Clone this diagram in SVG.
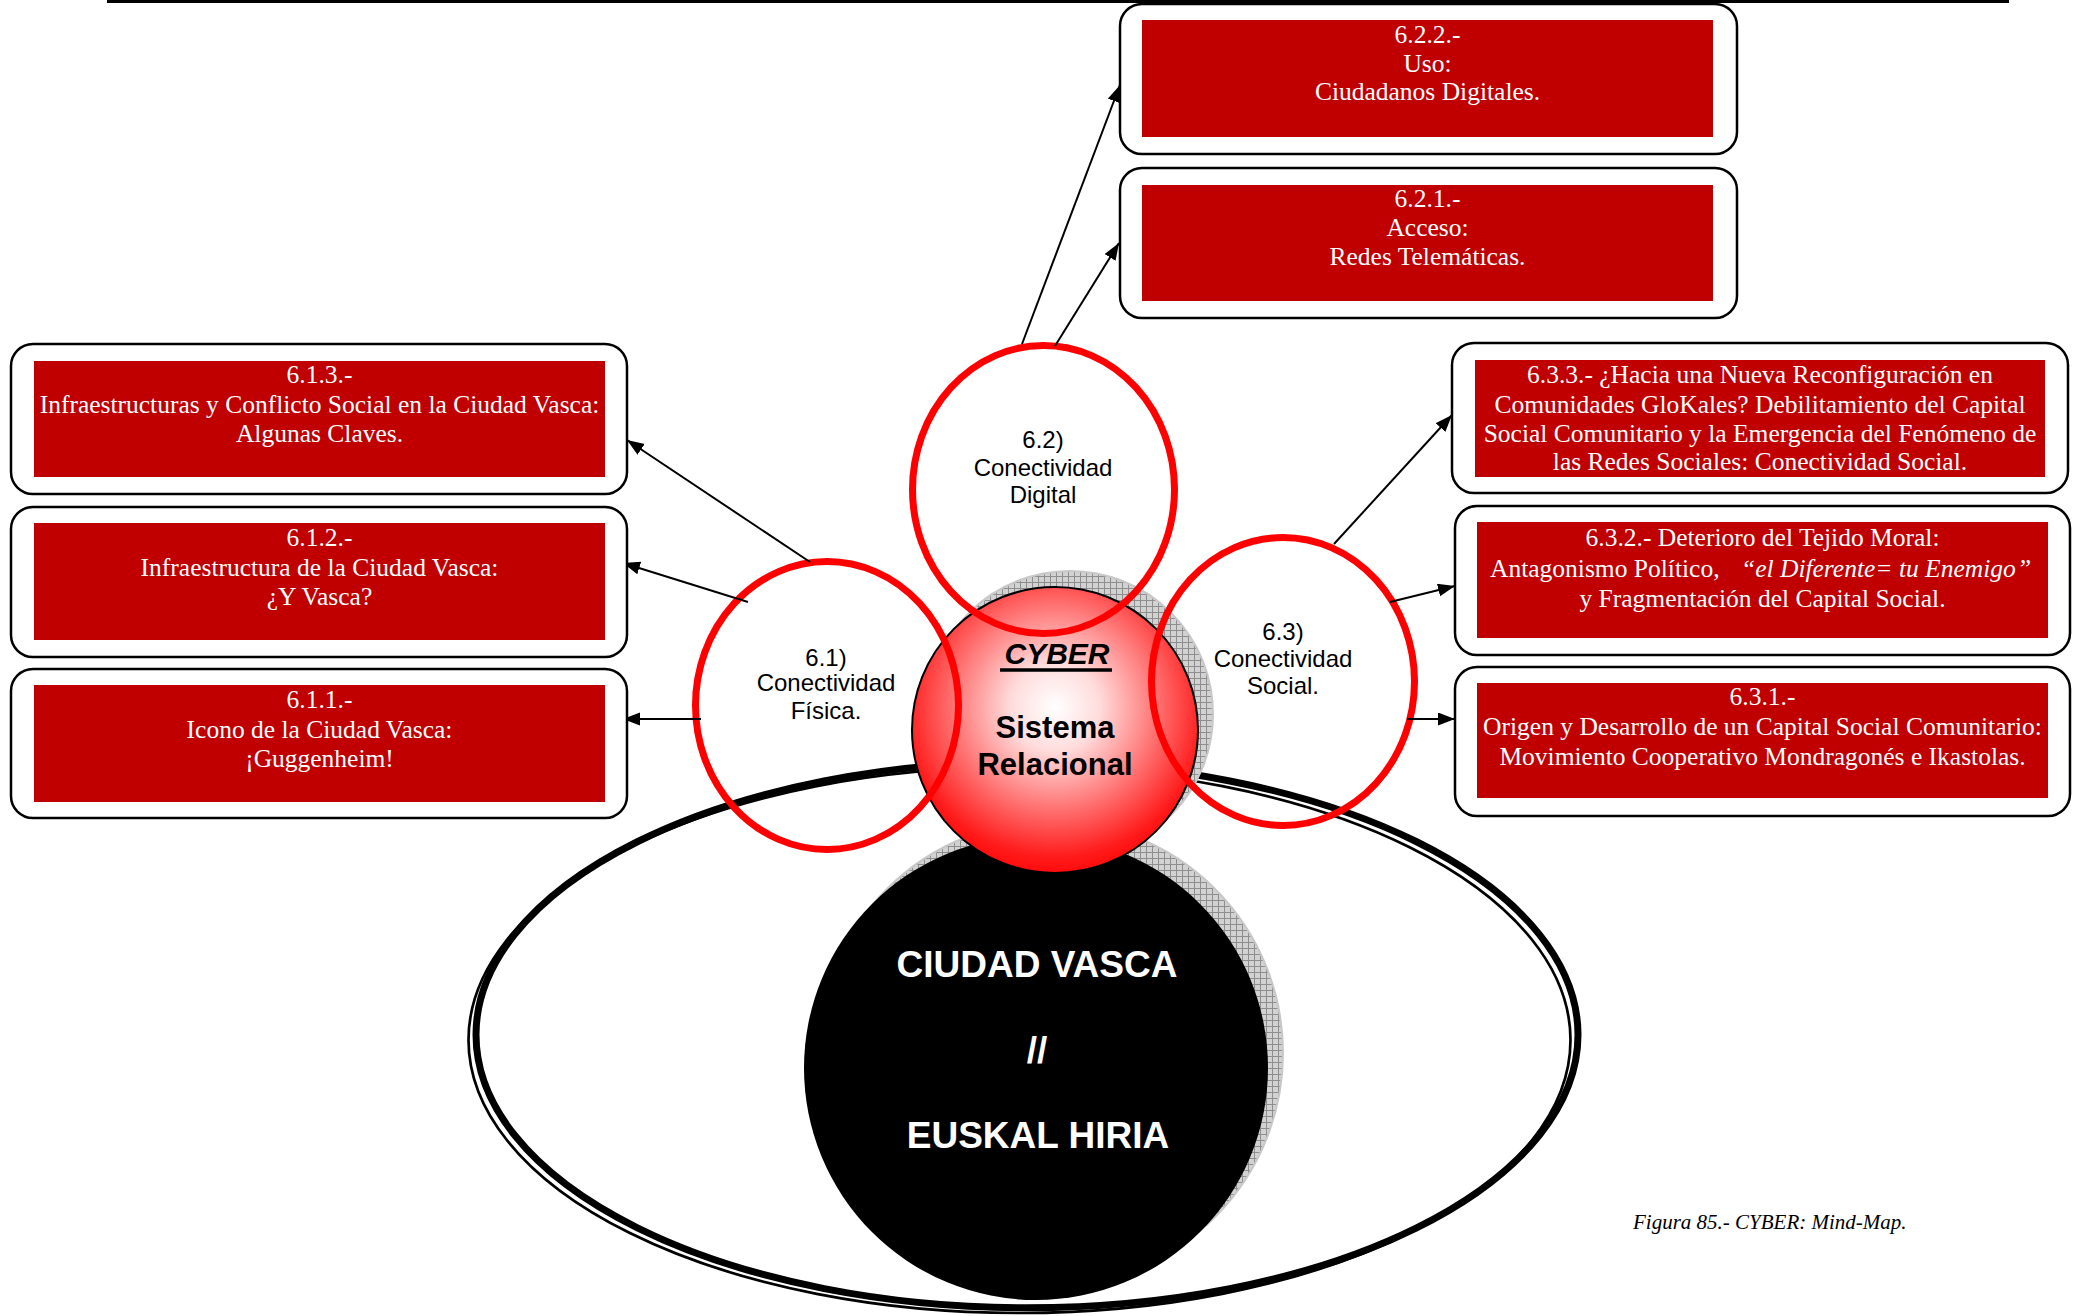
<svg xmlns="http://www.w3.org/2000/svg" width="2078" height="1316" viewBox="0 0 2078 1316">
<style>
.outer{fill:#ffffff;stroke:#000000;stroke-width:2.5}
.inner{fill:#c00000;stroke:none}
.bt{font-family:"Liberation Serif","Times New Roman",serif;font-size:25.5px;fill:#ffffff;text-anchor:middle}
.ring{fill:none;stroke:#ff0000;stroke-width:7}
.rt{font-family:"Liberation Sans",Arial,sans-serif;font-size:24px;fill:#000000;text-anchor:middle}
.conn{stroke:#000000;stroke-width:2;fill:none;marker-end:url(#arr)}
.ct{font-family:"Liberation Sans",Arial,sans-serif;font-weight:bold;fill:#000000;text-anchor:middle}
.wt{font-family:"Liberation Sans",Arial,sans-serif;font-weight:bold;font-size:37px;fill:#ffffff;text-anchor:middle}
</style>
<defs>
<marker id="arr" markerUnits="userSpaceOnUse" markerWidth="18" markerHeight="14" refX="17" refY="6.5" orient="auto">
<path d="M0,0 L17,6.5 L0,13 Z" fill="#000000"/>
</marker>
<pattern id="grid" width="6" height="6" patternUnits="userSpaceOnUse">
<rect width="6" height="6" fill="#d2d2d2"/>
<path d="M0,0.5H6M0.5,0V6" stroke="#8e8e8e" stroke-width="1"/>
</pattern>
<radialGradient id="sph" cx="0.5" cy="0.42" r="0.62" fx="0.5" fy="0.42">
<stop offset="0" stop-color="#ffffff"/>
<stop offset="0.25" stop-color="#ffdcdc"/>
<stop offset="0.6" stop-color="#ff6a6a"/>
<stop offset="0.85" stop-color="#ff1a1a"/>
<stop offset="1" stop-color="#ff0000"/>
</radialGradient>
</defs>

<rect x="0" y="0" width="2078" height="1316" fill="#ffffff"/>
<line x1="107" y1="1.5" x2="2009" y2="1.5" stroke="#000000" stroke-width="3"/>

<g id="base-ellipse">
<ellipse cx="1027" cy="1034.8" rx="551" ry="273" fill="none" stroke="#000000" stroke-width="7"/>
<ellipse cx="1019.5" cy="1040" rx="551" ry="273" fill="none" stroke="#000000" stroke-width="2.7"/>
</g>

<g id="ciudad-vasca">
<circle cx="1051" cy="1053" r="232" fill="url(#grid)" stroke="#c8c8c8" stroke-width="2"/>
<circle cx="1036" cy="1068" r="232" fill="#000000"/>
<text class="wt" x="1037" y="977">CIUDAD VASCA</text>
<text class="wt" x="1037" y="1063">//</text>
<text class="wt" x="1038" y="1148">EUSKAL HIRIA</text>
</g>

<g id="cyber">
<circle cx="1070" cy="714" r="143" fill="url(#grid)" stroke="#c8c8c8" stroke-width="2"/>
<circle cx="1055" cy="730" r="143" fill="url(#sph)" stroke="#000000" stroke-width="2"/>
<text class="ct" x="1057" y="664" font-size="30" font-style="italic">CYBER</text>
<line x1="1000" y1="670" x2="1112" y2="670" stroke="#000000" stroke-width="3.3"/>
<text class="ct" x="1055" y="738" font-size="31">Sistema</text>
<text class="ct" x="1055" y="775" font-size="31">Relacional</text>
</g>

<g id="n61">
<ellipse class="ring" cx="827" cy="705.5" rx="131.5" ry="144"/>
<text class="rt" x="826" y="666">6.1)</text>
<text class="rt" x="826" y="691">Conectividad</text>
<text class="rt" x="826" y="719">Física.</text>
</g>
<g id="n62">
<ellipse class="ring" cx="1043.5" cy="489.5" rx="131" ry="144"/>
<text class="rt" x="1043" y="448">6.2)</text>
<text class="rt" x="1043" y="476">Conectividad</text>
<text class="rt" x="1043" y="503">Digital</text>
</g>
<g id="n63">
<ellipse class="ring" cx="1283" cy="681.5" rx="131.5" ry="144"/>
<text class="rt" x="1283" y="640">6.3)</text>
<text class="rt" x="1283" y="667">Conectividad</text>
<text class="rt" x="1283" y="694">Social.</text>
</g>

<g id="connectors">
<line class="conn" x1="810" y1="562" x2="627" y2="440"/>
<line class="conn" x1="748" y1="602" x2="623" y2="563"/>
<line class="conn" x1="701" y1="719" x2="623" y2="719"/>
<line class="conn" x1="1022" y1="344" x2="1120" y2="85"/>
<line class="conn" x1="1055" y1="346" x2="1119" y2="243"/>
<line class="conn" x1="1334" y1="544" x2="1452" y2="415"/>
<line class="conn" x1="1390" y1="602" x2="1455" y2="586"/>
<line class="conn" x1="1407" y1="719" x2="1455" y2="719"/>
</g>

<g id="n613">
<rect class="outer" x="11" y="344" width="616" height="150" rx="22"/>
<rect class="inner" x="34" y="361" width="571" height="116"/>
<text class="bt" x="319.5" y="383">6.1.3.-</text>
<text class="bt" x="319.5" y="412.5">Infraestructuras y Conflicto Social en la Ciudad Vasca:</text>
<text class="bt" x="319.5" y="442">Algunas Claves.</text>
</g>
<g id="n612">
<rect class="outer" x="11" y="507" width="616" height="150" rx="22"/>
<rect class="inner" x="34" y="523" width="571" height="117"/>
<text class="bt" x="319.5" y="546">6.1.2.-</text>
<text class="bt" x="319.5" y="575.5">Infraestructura de la Ciudad Vasca:</text>
<text class="bt" x="319.5" y="605">¿Y Vasca?</text>
</g>
<g id="n611">
<rect class="outer" x="11" y="669" width="616" height="149" rx="22"/>
<rect class="inner" x="34" y="685" width="571" height="117"/>
<text class="bt" x="319.5" y="708">6.1.1.-</text>
<text class="bt" x="319.5" y="737.5">Icono de la Ciudad Vasca:</text>
<text class="bt" x="319.5" y="767">¡Guggenheim!</text>
</g>

<g id="n622">
<rect class="outer" x="1120" y="4" width="617" height="150" rx="22"/>
<rect class="inner" x="1142" y="20" width="571" height="117"/>
<text class="bt" x="1427.5" y="43">6.2.2.-</text>
<text class="bt" x="1427.5" y="72">Uso:</text>
<text class="bt" x="1427.5" y="100">Ciudadanos Digitales.</text>
</g>
<g id="n621">
<rect class="outer" x="1120" y="168" width="617" height="150" rx="22"/>
<rect class="inner" x="1142" y="185" width="571" height="116"/>
<text class="bt" x="1427.5" y="207">6.2.1.-</text>
<text class="bt" x="1427.5" y="236">Acceso:</text>
<text class="bt" x="1427.5" y="265">Redes Telemáticas.</text>
</g>

<g id="n633">
<rect class="outer" x="1452" y="343" width="616" height="150" rx="22"/>
<rect class="inner" x="1475" y="360" width="570" height="117"/>
<text class="bt" x="1760" y="383">6.3.3.- ¿Hacia una Nueva Reconfiguración en</text>
<text class="bt" x="1760" y="413">Comunidades GloKales? Debilitamiento del Capital</text>
<text class="bt" x="1760" y="442">Social Comunitario y la Emergencia del Fenómeno de</text>
<text class="bt" x="1760" y="470">las Redes Sociales: Conectividad Social.</text>
</g>
<g id="n632">
<rect class="outer" x="1455" y="506" width="615" height="149" rx="22"/>
<rect class="inner" x="1477" y="522" width="571" height="116"/>
<text class="bt" x="1762.5" y="546">6.3.2.- Deterioro del Tejido Moral:</text>
<text class="bt" style="text-anchor:start" y="577"><tspan x="1490">Antagonismo Político,</tspan><tspan x="1741" font-style="italic">“el Diferente= tu Enemigo</tspan><tspan x="2017" font-style="italic">”</tspan></text>
<text class="bt" x="1762.5" y="607">y Fragmentación del Capital Social.</text>
</g>
<g id="n631">
<rect class="outer" x="1455" y="667" width="615" height="149" rx="22"/>
<rect class="inner" x="1477" y="683" width="571" height="115"/>
<text class="bt" x="1762.5" y="705">6.3.1.-</text>
<text class="bt" x="1762.5" y="735">Origen y Desarrollo de un Capital Social Comunitario:</text>
<text class="bt" x="1762.5" y="765">Movimiento Cooperativo Mondragonés e Ikastolas.</text>
</g>

<text id="caption" x="1633" y="1229" font-family="'Liberation Serif','Times New Roman',serif" font-size="21" font-style="italic" fill="#000000">Figura 85.- CYBER: Mind-Map.</text>
</svg>
